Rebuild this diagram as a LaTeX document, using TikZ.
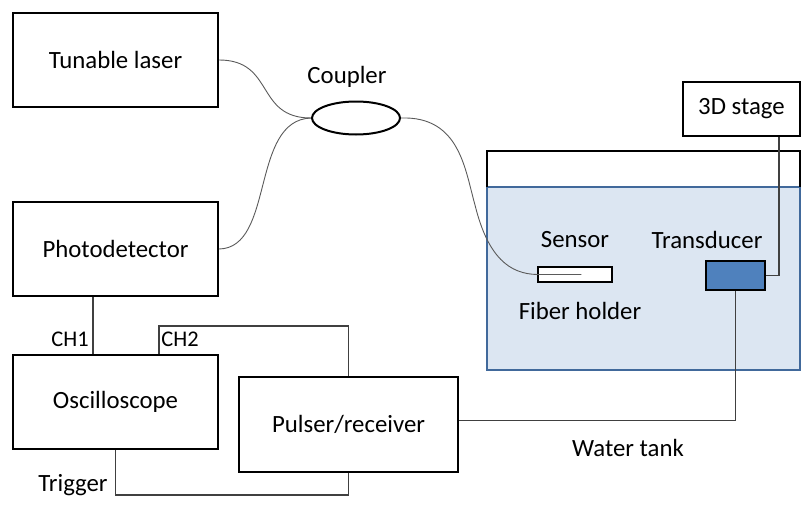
\documentclass[tikz,border=0pt]{standalone}
\usepackage{fontspec}
\setmainfont{Carlito}
\usetikzlibrary{shapes.geometric}
\definecolor{waterblue}{RGB}{220,230,242}
\definecolor{tankedge}{RGB}{65,105,155}
\definecolor{probeblue}{RGB}{79,129,189}
\definecolor{fibergray}{RGB}{90,90,90}

\begin{document}
\begin{tikzpicture}[x=0.5pt,y=-0.5pt,
    every node/.style={font=\fontsize{12.4}{15}\selectfont},
    box/.style={draw,line width=1pt,minimum width=102.5pt,minimum height=47pt,inner sep=0pt},
    fiber/.style={draw=fibergray,line width=0.45pt},
    cable/.style={draw=black!75,line width=0.55pt},
    small/.style={font=\fontsize{11.2}{13}\selectfont}]
  \useasboundingbox (0,0) rectangle (801,508);

  % water tank
  \fill[waterblue] (487,187) rectangle (800,370);
  \draw[tankedge,line width=0.75pt] (487,187) rectangle (800,370);
  \draw[line width=1pt] (487,187) -- (487,151) -- (800,151) -- (800,187);

  % instruments
  \node[box] (laser) at (115.5,60) {Tunable laser};
  \node[box] (photodet) at (115.5,249) {Photodetector};
  \node[box] (scope) at (115.5,402) {Oscilloscope};
  \node[box,minimum width=109.5pt,minimum height=47.5pt] (pulser) at (348.5,424.5) {Pulser/receiver};
  \node[box,minimum width=58.5pt,minimum height=27pt] (stage) at (741.5,109) {3D stage};
  \node[draw,ellipse,line width=1pt,minimum width=44pt,minimum height=16.5pt,inner sep=0pt] (coupler) at (356,118) {};
  \node[draw,fill=white,line width=0.75pt,minimum width=37pt,minimum height=7.5pt,inner sep=0pt] (holder) at (575,274.5) {};
  \node[draw,fill=probeblue,line width=1pt,minimum width=29.5pt,minimum height=14.5pt,inner sep=0pt] (transducer) at (735.5,275.5) {};

  % labels
  \node (couplerlabel) at (347,77) {Coupler};
  \node (sensorlabel) at (575,240) {Sensor};
  \node (transducerlabel) at (707,240) {Transducer};
  \node (holderlabel) at (580,311) {Fiber holder};
  \node (tanklabel) at (628,448) {Water tank};
  \node[small] (ch1label) at (70,339) {CH1};
  \node[small] (ch2label) at (180,339) {CH2};
  \node (triglabel) at (73,485) {Trigger};

  % optical fibers
  \draw[fiber] (laser.east) .. controls (275,60) and (255,118) .. (coupler.west);
  \draw[fiber] (photodet.east) .. controls (275,248) and (250,120) .. (coupler.west);
  \draw[fiber] (coupler.east) .. controls (460,116) and (465,170) .. (475,205)
    .. controls (488,258) and (510,274) .. (holder.west) -- ++(44,0);

  % electrical cables
  \coordinate (ch1) at (93,330);
  \coordinate (ch2) at (159,326);
  \coordinate (stagedrop) at (779,136);
  \draw[cable] (photodet.south -| ch1) -- (scope.north -| ch1);
  \draw[cable] (scope.north -| ch2) -- (ch2) -| (pulser.north);
  \draw[cable] (scope.south) -- ++(0,45) -| (pulser.south);
  \draw[cable] (stage.south -| stagedrop) |- (transducer.east);
  \draw[cable] (transducer.south) |- ([yshift=2pt]pulser.east);
\end{tikzpicture}
\end{document}
